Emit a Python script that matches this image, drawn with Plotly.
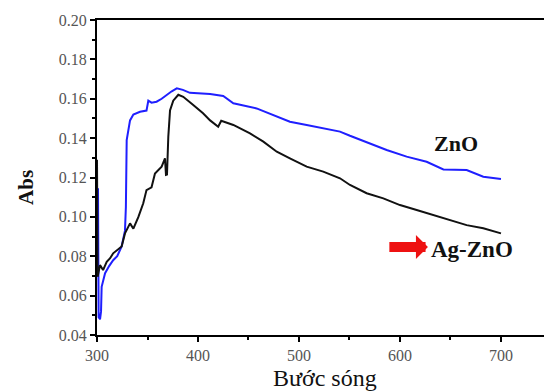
import plotly.graph_objects as go

# ZnO (blue) spectrum
zno_wl = [301, 301.3, 301.6, 303, 304, 304.6, 308, 312, 316, 320, 324.4, 327.7, 328.6, 329.4,
          331, 332.7, 336, 342.6, 349, 350.8, 354, 359, 364, 369, 374, 379, 385, 392, 412, 425,
          435, 458, 474.6, 491, 507.6, 524, 540.6, 550.5, 570, 586.8, 606.6, 626.4, 643, 666,
          682.5, 700]
zno_abs = [0.1145, 0.080, 0.049, 0.048, 0.052, 0.0645, 0.0714, 0.075, 0.078, 0.080, 0.085, 0.093,
           0.105, 0.139, 0.145, 0.149, 0.152, 0.1534, 0.154, 0.159, 0.158, 0.1585, 0.160, 0.162,
           0.1638, 0.1653, 0.1645, 0.163, 0.1624, 0.1614, 0.1577, 0.1551, 0.1517, 0.1483, 0.1467,
           0.145, 0.1433, 0.1412, 0.1374, 0.134, 0.1306, 0.128, 0.1241, 0.1238, 0.1204, 0.1192]

# Ag-ZnO (black) spectrum
ag_wl = [300, 300.3, 300.6, 303, 306, 309.6, 313, 316, 319.5, 324.4, 327.7, 332.7, 336, 341,
         345.8, 349, 354, 357.4, 364, 367.3, 368.3, 369.3, 370.6, 372.3, 375.5, 380.5, 385.4,
         392, 395, 405, 412, 420, 423, 435, 451.5, 464.7, 478, 491, 507.6, 524, 540.6, 550.5,
         567, 583.5, 600, 616.5, 633, 649.5, 666, 682.5, 700]
ag_abs = [0.129, 0.100, 0.0696, 0.0755, 0.073, 0.0772, 0.079, 0.0815, 0.083, 0.085, 0.0916,
          0.0967, 0.094, 0.100, 0.1069, 0.1136, 0.115, 0.122, 0.1255, 0.1297, 0.1213, 0.1215,
          0.1407, 0.154, 0.159, 0.162, 0.161, 0.1585, 0.157, 0.1526, 0.149, 0.1458, 0.1488,
          0.1467, 0.1424, 0.1382, 0.1331, 0.1297, 0.1255, 0.123, 0.1196, 0.1162, 0.112, 0.1094,
          0.106, 0.1035, 0.101, 0.0984, 0.0958, 0.0942, 0.0916]

x_ticks = [300, 400, 500, 600, 700]
y_ticks = [0.04, 0.06, 0.08, 0.10, 0.12, 0.14, 0.16, 0.18, 0.20]

serif = "'Liberation Serif', 'Times New Roman', serif"

fig = go.Figure()
fig.add_trace(go.Scatter(x=zno_wl, y=zno_abs, mode="lines", line=dict(color="#1f1fff", width=2),
                         name="ZnO", showlegend=False))
fig.add_trace(go.Scatter(x=ag_wl, y=ag_abs, mode="lines", line=dict(color="#111111", width=2),
                         name="Ag-ZnO", showlegend=False))

fig.update_layout(
    width=544, height=392,
    margin=dict(l=97, r=0, t=20, b=57, autoexpand=False),
    paper_bgcolor="white", plot_bgcolor="white",
    xaxis=dict(range=[300, 742.6], tickvals=x_ticks, ticktext=[str(v) for v in x_ticks],
               automargin=False,
               showgrid=False, zeroline=False, showline=True, linecolor="black", linewidth=2,
               mirror=True, ticks="outside", ticklen=5, tickwidth=1.5, tickcolor="black",
               tickfont=dict(family=serif, size=16, color="#555555"),
               minor=dict(dtick=50, tick0=300, ticks="outside", ticklen=3, tickcolor="black")),
    yaxis=dict(range=[0.04, 0.20], tickvals=y_ticks, ticktext=["%.2f" % v for v in y_ticks],
               automargin=False,
               showgrid=False, zeroline=False, showline=True, linecolor="black", linewidth=2,
               mirror=False, ticks="outside", ticklen=5, tickwidth=1.5, tickcolor="black",
               tickfont=dict(family=serif, size=16, color="#555555"),
               minor=dict(dtick=0.01, tick0=0.04, ticks="outside", ticklen=3, tickcolor="black")),
    annotations=[
        dict(text="Bước sóng", xref="paper", yref="paper", x=0.51, y=-0.138, showarrow=False,
             xanchor="center", yanchor="middle", font=dict(family=serif, size=24, color="#111")),
        dict(text="<b>Abs</b>", xref="paper", yref="paper", x=0, xshift=-71, y=0.467,
             showarrow=False, textangle=-90, xanchor="center", yanchor="middle",
             font=dict(family=serif, size=21, color="#111")),
        dict(text="<b>ZnO</b>", x=655.4, y=0.1375, showarrow=False, xanchor="center",
             yanchor="middle", font=dict(family=serif, size=22, color="#111")),
        dict(text="<b>Ag-ZnO</b>", x=671, y=0.0832, showarrow=False, xanchor="center",
             yanchor="middle", font=dict(family=serif, size=23, color="#111")),
        dict(text="", x=627.7, y=0.0847, ax=588, ay=0.0847, axref="x", ayref="y",
             showarrow=True, arrowhead=1, arrowsize=0.4, arrowwidth=10, arrowcolor="#ee1111"),
    ],
)

fig.write_html("out.html", config={"displayModeBar": False},
               post_script="document.body.style.margin='0';document.body.style.padding='0';")
